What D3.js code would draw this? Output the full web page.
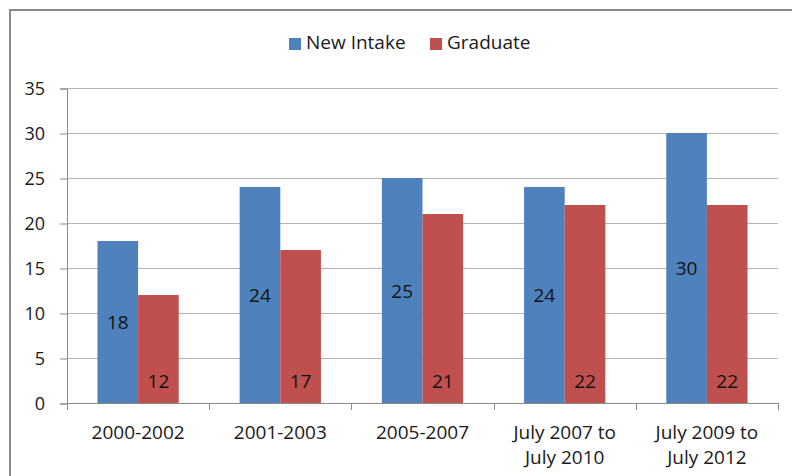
<!DOCTYPE html>
<html>
<head>
<meta charset="utf-8">
<script src="https://cdn.jsdelivr.net/npm/d3@7"></script>
<style>
  html, body { margin: 0; padding: 0; background: #fff; }
  svg { display: block; font-family: "Open Sans", sans-serif; }
</style>
</head>
<body>
<svg id="chart" width="792" height="476"></svg>
<script>
// chart values
var categories = ["2000-2002", "2001-2003", "2005-2007", "July 2007 to|July 2010", "July 2009 to|July 2012"];
var seriesNames = ["New Intake", "Graduate"];
var newIntake = [18, 24, 25, 24, 30];
var graduate = [12, 17, 21, 22, 22];
var yTicks = [0, 5, 10, 15, 20, 25, 30, 35];

var colors = {"New Intake": "#4F81BD", "Graduate": "#C0504D"};

var svg = d3.select("#chart"),
    margin = {left: 67, right: 14, top: 88, bottom: 73},
    W = +svg.attr("width"), H = +svg.attr("height");

// outer frame (runs off the right and bottom edge)
svg.append("rect")
    .attr("x", 10).attr("y", 10)
    .attr("width", 820).attr("height", 520)
    .attr("fill", "none")
    .attr("stroke", "#8a8a8a")
    .attr("stroke-width", 2);

var x = d3.scaleBand()
    .domain(categories)
    .range([margin.left, W - margin.right])
    .padding(0);

var bw = x.bandwidth();
var x1 = d3.scaleBand()
    .domain(seriesNames)
    .range([bw * 0.2143, bw * 0.7857])
    .padding(0);

var y = d3.scaleLinear()
    .domain([0, 35])
    .range([H - margin.bottom, margin.top]);

var rows = categories.map(function(c, i) {
    return {cat: c, values: [
        {key: "New Intake", v: newIntake[i]},
        {key: "Graduate", v: graduate[i]}
    ]};
});

// gridlines
svg.append("g").selectAll("line")
    .data(yTicks.filter(function(d) { return d > 0; }))
    .enter().append("line")
      .attr("x1", margin.left).attr("x2", W - margin.right)
      .attr("y1", function(d) { return y(d) + 0.5; })
      .attr("y2", function(d) { return y(d) + 0.5; })
      .attr("stroke", "#b4b4b4")
      .attr("stroke-width", 1);

// y axis
var yAxis = svg.append("g")
    .attr("transform", "translate(" + margin.left + ",0.5)")
    .call(d3.axisLeft(y).tickValues(yTicks).tickSize(7).tickPadding(15));
yAxis.select(".domain").attr("stroke", "#8a8a8a");
yAxis.selectAll(".tick line").attr("stroke", "#8a8a8a");
yAxis.selectAll(".tick text")
    .attr("font-size", "18px")
    .attr("font-family", "Open Sans, sans-serif")
    .attr("fill", "#1a1a1a");

// bars
var groups = svg.append("g").selectAll("g")
    .data(rows)
    .enter().append("g")
      .attr("transform", function(d) { return "translate(" + x(d.cat) + ",0)"; });

groups.selectAll("rect")
    .data(function(d) { return d.values; })
    .enter().append("rect")
      .attr("x", function(d) { return x1(d.key); })
      .attr("y", function(d) { return y(d.v); })
      .attr("width", x1.bandwidth())
      .attr("height", function(d) { return y(0) - y(d.v); })
      .attr("fill", function(d) { return colors[d.key]; });

// labels: blue centred, red at inside base
groups.selectAll("text")
    .data(function(d) { return d.values; })
    .enter().append("text")
      .attr("x", function(d) { return x1(d.key) + x1.bandwidth() / 2; })
      .attr("y", function(d) {
          return d.key === "New Intake" ? (y(d.v) + y(0)) / 2 + 7 : y(0) - 15;
      })
      .attr("text-anchor", "middle")
      .attr("font-size", "19px")
      .attr("fill", "#111")
      .text(function(d) { return d.v; });

// x axis
var xa = svg.append("g");
xa.append("line")
    .attr("x1", margin.left).attr("x2", W - margin.right)
    .attr("y1", y(0) + 0.5).attr("y2", y(0) + 0.5)
    .attr("stroke", "#8a8a8a");
var bounds = categories.map(function(c) { return x(c); }).concat([W - margin.right]);
xa.selectAll(".xt")
    .data(bounds)
    .enter().append("line")
      .attr("class", "xt")
      .attr("x1", function(d) { return Math.round(d) + 0.5; })
      .attr("x2", function(d) { return Math.round(d) + 0.5; })
      .attr("y1", y(0)).attr("y2", y(0) + 7)
      .attr("stroke", "#8a8a8a");

var xl = xa.selectAll(".xl")
    .data(categories)
    .enter().append("text")
      .attr("class", "xl")
      .attr("text-anchor", "middle")
      .attr("font-size", "19px")
      .attr("fill", "#1a1a1a")
      .attr("transform", function(d) { return "translate(" + (x(d) + bw / 2) + "," + (y(0) + 36) + ")"; });
xl.selectAll("tspan")
    .data(function(d) { return d.split("|"); })
    .enter().append("tspan")
      .attr("x", 0)
      .attr("dy", function(d, i) { return i === 0 ? 0 : 25; })
      .text(function(d) { return d; });

// legend
var legX = [289, 430];
var leg = svg.append("g").selectAll("g")
    .data(seriesNames)
    .enter().append("g")
      .attr("transform", function(d, i) { return "translate(" + legX[i] + ",38)"; });
leg.append("rect")
    .attr("width", 12).attr("height", 12)
    .attr("fill", function(d) { return colors[d]; });
leg.append("text")
    .attr("x", 17).attr("y", 11)
    .attr("font-size", "19px")
    .attr("fill", "#1a1a1a")
    .text(function(d) { return d; });
</script>
</body>
</html>
